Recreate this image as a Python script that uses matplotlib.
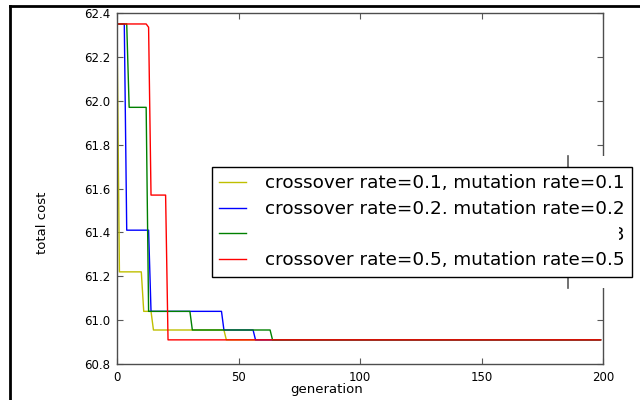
import numpy as np
import matplotlib
matplotlib.use("Agg")
import matplotlib.pyplot as plt
from matplotlib.lines import Line2D
from matplotlib.patches import Rectangle

n_gen = 200
generations = np.arange(n_gen)

labels = [
    "crossover rate=0.1, mutation rate=0.1",
    "crossover rate=0.2, mutation rate=0.2",
    "crossover rate=0.3, mutation rate=0.3",
    "crossover rate=0.5, mutation rate=0.5",
]
colors = [(0.75, 0.75, 0.0), "b", (0.0, 0.5, 0.0), "r"]

# change points: (generation where value starts, value)
yellow_gen = [0, 1, 11, 15, 45]
yellow_val = [62.35, 61.22, 61.04, 60.955, 60.91]
blue_gen = [0, 4, 14, 44, 57]
blue_val = [62.35, 61.41, 61.04, 60.955, 60.91]
green_gen = [0, 5, 13, 31, 64]
green_val = [62.35, 61.97, 61.04, 60.955, 60.91]
red_gen = [0, 13, 14, 21]
red_val = [62.35, 62.335, 61.57, 60.91]


def hold(change_gen, change_val):
    out = np.empty(n_gen)
    for i, g in enumerate(change_gen):
        out[g:] = change_val[i]
    return out


series = [hold(yellow_gen, yellow_val), hold(blue_gen, blue_val),
          hold(green_gen, green_val), hold(red_gen, red_val)]

W, H = 640, 400
fig = plt.figure(figsize=(6.4, 4.0), dpi=100, facecolor="white")
ax = fig.add_axes([117 / W, 1 - 364 / H, (603 - 117) / W, (364 - 13) / H])

for y, c, lab in zip(series, colors, labels):
    ax.plot(generations, y, color=c, lw=1.0, label=lab)

ax.set_xlim(0, 200)
ax.set_ylim(60.8, 62.4)
ax.set_xticks([0, 50, 100, 150, 200])
ax.set_yticks(np.arange(60.8, 62.41, 0.2))
ax.yaxis.set_major_formatter(matplotlib.ticker.FormatStrFormatter("%.1f"))
ax.tick_params(direction="in", length=4, width=0.8, top=True, right=True,
               labelsize=8.5, pad=5, color="0.35")
for s in ax.spines.values():
    s.set_color("0.3")
    s.set_linewidth(1.0)

fig.text(327 / W, 1 - 389 / H, "generation", ha="center", va="center", fontsize=9.5)
fig.text(42 / W, 1 - 223 / H, "total cost", ha="center", va="center",
         rotation=90, fontsize=9.5)

# white block at right with its left edge line
ax.add_patch(Rectangle((568 / W, 1 - 288 / H), (W - 568) / W, (288 - 156) / H,
                       transform=fig.transFigure, facecolor="white",
                       edgecolor="none", clip_on=False, zorder=4))
ax.add_line(Line2D([568 / W, 568 / W], [1 - 156 / H, 1 - 288 / H],
                   transform=fig.transFigure, color="0.35", lw=1.2,
                   clip_on=False, zorder=4.1))

leg = ax.legend(loc="upper left", bbox_to_anchor=(212 / W, 1 - 167 / H),
                bbox_transform=fig.transFigure, borderaxespad=0,
                fontsize=13.2, handlelength=1.45, handletextpad=1.05,
                labelspacing=0.42, borderpad=0.4, fancybox=False,
                framealpha=1, edgecolor="black")
leg.get_frame().set_linewidth(1.0)
leg.set_zorder(5)

# white cover over third legend label
cover = Rectangle((262 / W, 1 - 248 / H), (619 - 262) / W, (248 - 213.5) / H,
                  transform=fig.transFigure, facecolor="white",
                  edgecolor="none", zorder=6)
fig.add_artist(cover)

# black frame lines
fig.add_artist(Line2D([10 / W, 1], [1 - 6 / H, 1 - 6 / H], color="black", lw=2))
fig.add_artist(Line2D([10 / W, 10 / W], [0, 1 - 6 / H], color="black", lw=2))

fig.savefig("out.png", dpi=100, facecolor="white")
